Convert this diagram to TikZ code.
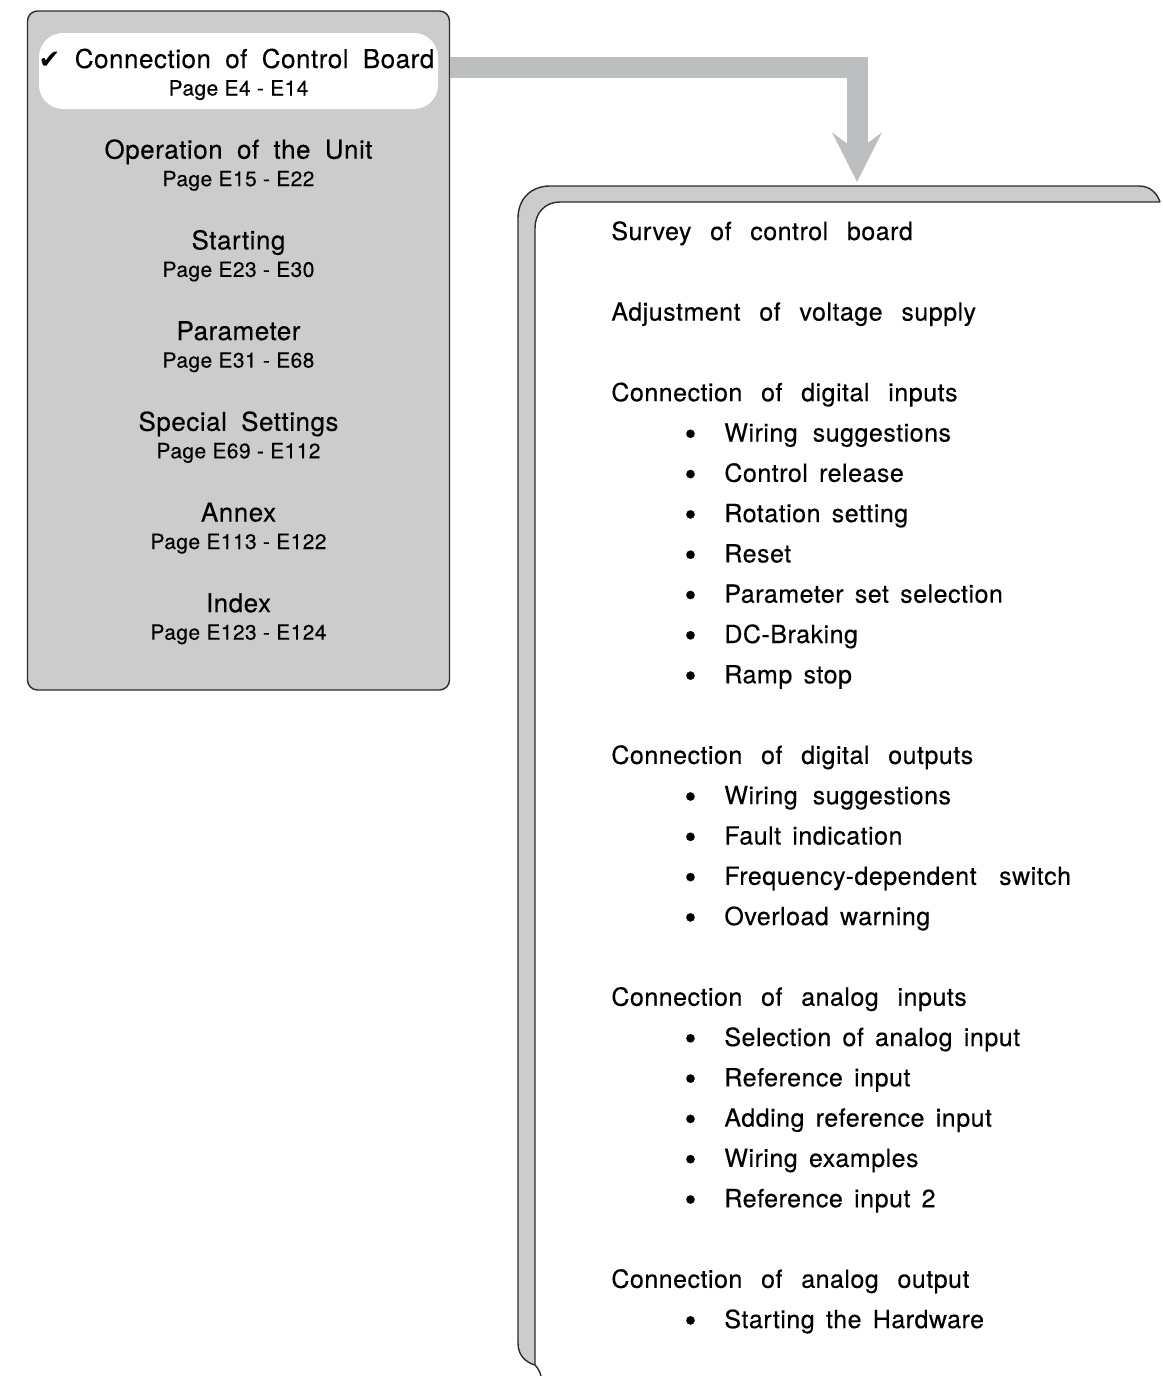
\documentclass[tikz,border=0pt]{standalone}
\usepackage{fontspec}
\setmainfont{TeX Gyre Heros}[LetterSpace=2,FakeBold=0.3]
\newfontfamily\symfont{DejaVu Sans}
\usetikzlibrary{arrows.meta}
\definecolor{panelgray}{RGB}{204,204,204}
\definecolor{arrowgray}{RGB}{189,190,192}
\definecolor{edgegray}{RGB}{45,45,45}
\newcommand{\bul}{\llap{\raisebox{-0.3ex}{\scalebox{1.35}{\textbullet}}\hspace{14pt}}}
\tikzset{
  menubox/.style={draw=edgegray, line width=0.7pt, fill=panelgray, rounded corners=5pt, inner sep=0pt},
  selbox/.style={fill=white, rounded corners=12pt, inner sep=0pt},
  gap/.style={execute at begin node={\spaceskip=#1\relax}},
  title/.style={anchor=base, inner sep=0pt, font=\fontsize{13}{15}\selectfont, gap=0.55em},
  pages/.style={anchor=base, inner sep=0pt, font=\fontsize{10.5}{12}\selectfont},
  head/.style={anchor=base west, inner sep=0pt, font=\fontsize{12.5}{15}\selectfont, gap=0.75em},
  item/.style={anchor=base west, inner sep=0pt, font=\fontsize{12.5}{15}\selectfont, gap=0.45em},
  flow/.style={draw=arrowgray, line width=10.5pt, -{Stealth[length=24.5pt,width=24.5pt,inset=9pt]}},
}

\begin{document}
\begin{tikzpicture}[x=0.5pt,y=-0.5pt]
\useasboundingbox (0,0) rectangle (1162,1376);

%Menu box with the selected entry
\node[menubox, minimum width=211pt, minimum height=339.5pt] (menu) at (238.5,350.5) {};
\node[selbox, minimum width=199.5pt, minimum height=38pt] (sel) at (238.5,71) {};

%Menu entries
\node[title] (conn) at (236.5,68) {{\symfont ✔} Connection of Control Board};
\node[pages] (connp) at (238.5,95.5) {Page E4 - E14};
\node[title] (oper) at (238.5,158.7) {Operation of the Unit};
\node[pages] (operp) at (238.5,186.2) {Page E15 - E22};
\node[title] (start) at (238.5,249.4) {Starting};
\node[pages] (startp) at (238.5,276.9) {Page E23 - E30};
\node[title] (param) at (238.5,340.1) {Parameter};
\node[pages] (paramp) at (238.5,367.6) {Page E31 - E68};
\node[title] (special) at (238.5,430.8) {Special Settings};
\node[pages] (specialp) at (238.5,458.3) {Page E69 - E112};
\node[title] (annex) at (238.5,521.5) {Annex};
\node[pages] (annexp) at (238.5,549) {Page E113 - E122};
\node[title] (index) at (238.5,612.2) {Index};
\node[pages] (indexp) at (238.5,639.7) {Page E123 - E124};

%Content panel (folded page look)
\fill[panelgray] (535,1365) -- (535,228) .. controls (535,213) and (545,202) .. (560,202) -- (1160,202)
  .. controls (1157,193) and (1150,186) .. (1139,186) -- (550,186) .. controls (531,186) and (518,199) .. (518,218)
  -- (518,1343) .. controls (518,1355) and (525,1362) .. (535,1365) -- cycle;
\draw[edgegray, line width=0.7pt] (1160,202) .. controls (1157,193) and (1150,186) .. (1139,186) -- (550,186)
  .. controls (531,186) and (518,199) .. (518,218) -- (518,1343) .. controls (518,1355) and (525,1362) .. (535,1365)
  .. controls (538,1368) and (540,1372) .. (541,1376);
\draw[edgegray, line width=0.7pt] (535,1365) -- (535,228) .. controls (535,213) and (545,202) .. (560,202) -- (1160,202);
\coordinate (tip) at (857,182);

%Arrow from the selected entry to the panel
\path (menu.east |- sel.east) ++(0,-3.5) coordinate (out);
\draw[flow] (out) -| (tip);

%Panel entries
\node[head] (survey) at (611,240) {Survey of control board};
\node[head] (adjust) at (611,320.6) {Adjustment of voltage supply};
\node[head] (digin) at (611,401.2) {Connection of digital inputs};
\node[item, gap=0.6em] (digin1) at (724,441.5) {\bul Wiring suggestions};
\node[item] (digin2) at (724,481.8) {\bul Control release};
\node[item] (digin3) at (724,522.1) {\bul Rotation setting};
\node[item] (digin4) at (724,562.4) {\bul Reset};
\node[item] (digin5) at (724,602.7) {\bul Parameter set selection};
\node[item] (digin6) at (724,643) {\bul DC-Braking};
\node[item] (digin7) at (724,683.3) {\bul Ramp stop};
\node[head] (digout) at (611,763.9) {Connection of digital outputs};
\node[item, gap=0.6em] (digout1) at (724,804.2) {\bul Wiring suggestions};
\node[item] (digout2) at (724,844.5) {\bul Fault indication};
\node[item, gap=0.9em] (digout3) at (724,884.8) {\bul Frequency-dependent switch};
\node[item] (digout4) at (724,925.1) {\bul Overload warning};
\node[head] (anin) at (611,1005.7) {Connection of analog inputs};
\node[item] (anin1) at (724,1046) {\bul Selection of analog input};
\node[item] (anin2) at (724,1086.3) {\bul Reference input};
\node[item] (anin3) at (724,1126.6) {\bul Adding reference input};
\node[item] (anin4) at (724,1166.9) {\bul Wiring examples};
\node[item] (anin5) at (724,1207.2) {\bul Reference input 2};
\node[head] (anout) at (611,1287.8) {Connection of analog output};
\node[item] (anout1) at (724,1328.1) {\bul Starting the Hardware};
\end{tikzpicture}
\end{document}
